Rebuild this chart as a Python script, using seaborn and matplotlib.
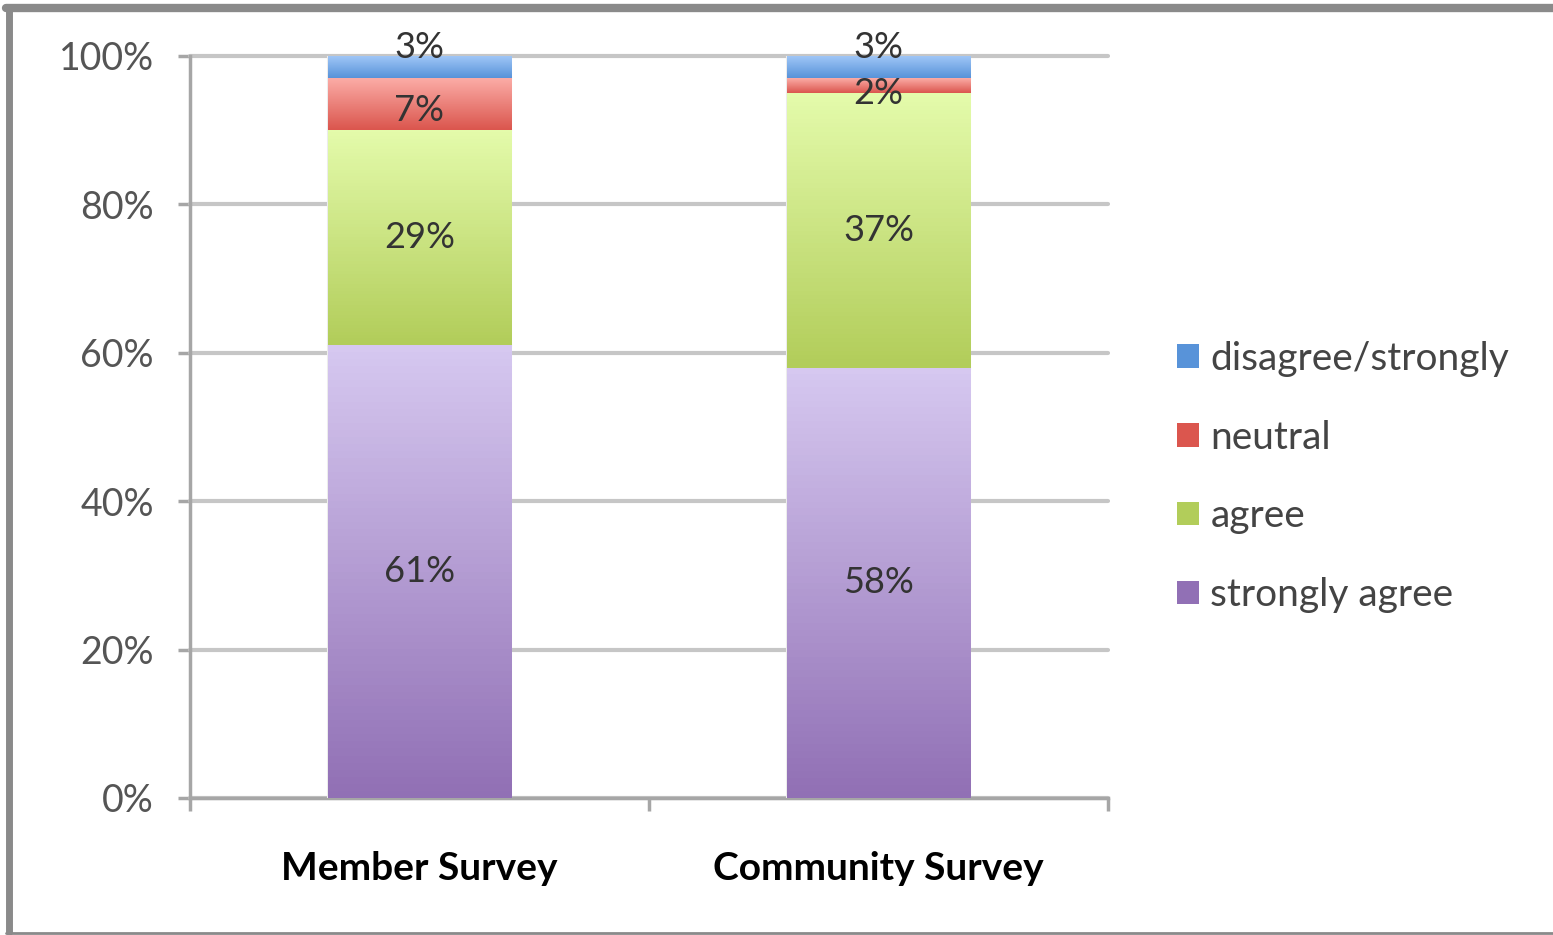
import numpy as np
import pandas as pd
import matplotlib
matplotlib.use("Agg")
import matplotlib.pyplot as plt
import matplotlib.colors as mcolors
from matplotlib.patches import Patch
from matplotlib.lines import Line2D
import seaborn as sns

# data
surveys = ["Member Survey", "Community Survey"]
series = ["strongly agree", "agree", "neutral", "disagree/strongly"]
strongly_agree = [61, 58]
agree = [29, 37]
neutral = [7, 2]
disagree = [3, 3]
y_ticks = [0, 20, 40, 60, 80, 100]

values = [strongly_agree, agree, neutral, disagree]
# (top colour, bottom colour) for the Excel-style gradient of each segment
grads = [("#d6c8f0", "#9170b5"),
         ("#e4fbab", "#b2cd5a"),
         ("#fbaca6", "#db564e"),
         ("#a2c8f8", "#5893d9")]

sns.set_theme(style="white")
plt.rcParams["font.family"] = ["Lato", "DejaVu Sans"]

fig = plt.figure(figsize=(15.53, 9.35), dpi=100)
ax = fig.add_axes([190 / 1553, 1 - 798 / 935, 918 / 1553, 742 / 935])

df = pd.DataFrame({"survey": surveys})
bottom = np.zeros(len(surveys))
seg_patches = []
for name, vals, (c_top, c_bot) in zip(series, values, grads):
    df[name] = vals
    n_before = len(ax.patches)
    sns.barplot(data=df, x="survey", y=name, bottom=bottom, color=c_bot,
                width=0.4, ax=ax, edgecolor="#ececec", linewidth=1.5, zorder=3)
    for p, v, b in zip(ax.patches[n_before:], vals, bottom):
        seg_patches.append((p, v, b, c_top, c_bot))
    bottom = bottom + np.array(vals)

# gradient fill clipped to each bar segment
for p, v, b, c_top, c_bot in seg_patches:
    cmap = mcolors.LinearSegmentedColormap.from_list("g", [c_bot, c_top])
    grad = np.linspace(0, 1, 64).reshape(-1, 1)
    x0 = p.get_x()
    im = ax.imshow(grad, cmap=cmap, origin="lower", aspect="auto",
                   extent=[x0, x0 + p.get_width(), b, b + v], zorder=3.5)
    im.set_clip_path(p)

# data labels, centred, small segments nudged like the original
for p, v, b, c_top, c_bot in seg_patches:
    yy = b + v / 2
    if b + v >= 100 and v <= 3:
        yy += 2.6
    elif v == 7:
        yy -= 0.8
    elif v == 2:
        yy -= 1.0
    ax.text(p.get_x() + p.get_width() / 2, yy, f"{v}%", ha="center", va="center",
            fontsize=26, color="#333333", zorder=5)

ax.set_xlim(-0.5, 1.5)
ax.set_ylim(0, 100)
ax.set_yticks(y_ticks)
ax.set_yticklabels([f"{t}%" for t in y_ticks], fontsize=27, color="#555555")
ax.set_xticks([0, 1])
ax.set_xticklabels(surveys, fontsize=28, fontweight="bold", color="black")
ax.set_xlabel("")
ax.set_ylabel("")

for t in y_ticks:
    ax.axhline(t, color="#c6c6c6", lw=3, zorder=1, clip_on=False)

for s in ["top", "right"]:
    ax.spines[s].set_visible(False)
for s in ["left", "bottom"]:
    ax.spines[s].set_color("#a6a6a6")
    ax.spines[s].set_linewidth(2.5)
ax.tick_params(axis="y", which="both", left=True, length=9, width=2.5,
               color="#a6a6a6", pad=17)
ax.tick_params(axis="x", which="major", bottom=False, pad=32)
ax.set_xticks([-0.5, 0.5, 1.5], minor=True)
ax.tick_params(axis="x", which="minor", bottom=True, length=9, width=2.5,
               color="#a6a6a6")

handles = [Patch(facecolor=grads[i][1], edgecolor="none") for i in range(3, -1, -1)]
labels = [series[i] for i in range(3, -1, -1)]
fig.legend(handles, labels, loc="center left", bbox_to_anchor=(1142 / 1553, 1 - 477 / 935),
           frameon=False, fontsize=28, labelcolor="#444444", handlelength=0.56,
           handleheight=0.56, handletextpad=0.3, labelspacing=1.1)

# outer chart frame (left, top, bottom visible)
fig.add_artist(Line2D([9 / 1553, 9 / 1553], [0.003, 1 - 8 / 935], transform=fig.transFigure,
                      color="#8a8a8a", lw=5))
fig.add_artist(Line2D([6 / 1553, 1], [1 - 8 / 935, 1 - 8 / 935], transform=fig.transFigure,
                      color="#8a8a8a", lw=6))
fig.add_artist(Line2D([6 / 1553, 1], [1 - 933 / 935, 1 - 933 / 935], transform=fig.transFigure,
                      color="#8a8a8a", lw=2))

fig.savefig("out.png", dpi=100)
